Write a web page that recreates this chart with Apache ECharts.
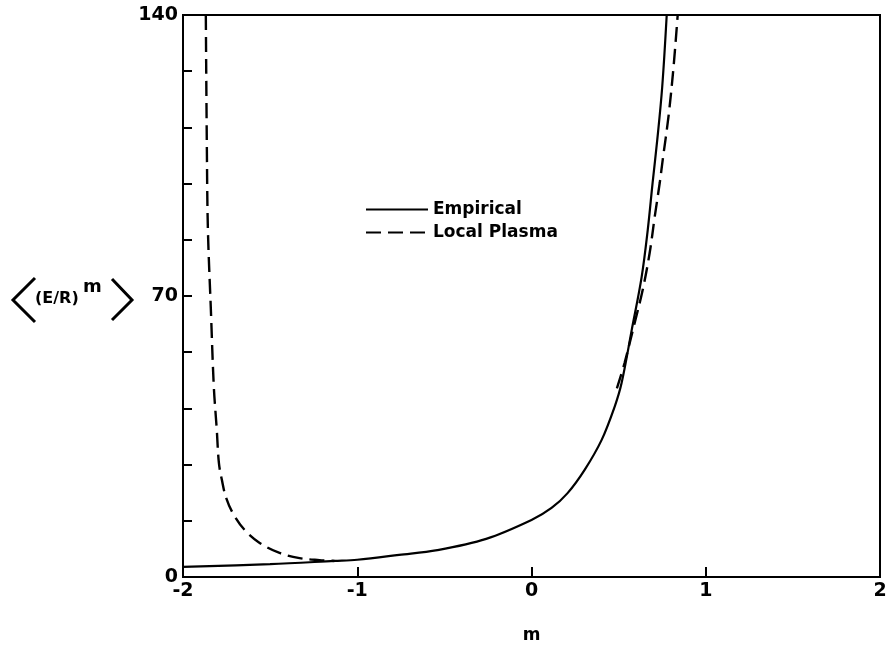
<!DOCTYPE html>
<html>
<head>
<meta charset="utf-8">
<script src="https://cdn.jsdelivr.net/npm/echarts@6/dist/echarts.min.js"></script>
<style>
  html, body { margin: 0; padding: 0; background: #fff; }
  #chart { width: 892px; height: 659px; }
</style>
</head>
<body>
<div id="chart"></div>
<script>
// Moment <(E/R)^m> as a function of the exponent m
const empiricalPoints = [
  [-2.0, 2.5], [-1.5, 3.2], [-1.13, 4.0], [-1.0, 4.3], [-0.76, 5.5],
  [-0.54, 6.7], [-0.26, 9.5], [0.0, 14.2], [0.115, 17.2], [0.207, 20.9],
  [0.305, 26.7], [0.402, 34.1], [0.477, 42.4], [0.517, 48.3], [0.575, 61.5],
  [0.632, 74.7], [0.667, 86.4], [0.695, 98.2], [0.722, 109.0], [0.750, 122.0],
  [0.776, 140]
];
const plasmaLowBranch = [
  [-1.869, 140], [-1.863, 106.4], [-1.857, 86.4], [-1.840, 66.5], [-1.823, 47.3],
  [-1.806, 36.6], [-1.794, 28.4], [-1.777, 24.2], [-1.754, 19.9], [-1.714, 15.9],
  [-1.646, 11.7], [-1.560, 8.5], [-1.446, 6.0], [-1.331, 4.7], [-1.217, 4.2],
  [-1.131, 4.0]
];
const plasmaHighBranch = [
  [0.49, 47.0], [0.534, 53.3], [0.592, 63.3], [0.638, 71.5], [0.678, 80.7],
  [0.707, 89.7], [0.736, 98.2], [0.753, 103.9], [0.787, 115.0], [0.815, 127.0],
  [0.839, 140]
];
const seriesNames = ['Empirical', 'Local Plasma'];
const yLabelValues = [0, 70, 140];

const FONT = '"DejaVu Sans", "Liberation Sans", Arial, sans-serif';
const chart = echarts.init(document.getElementById('chart'), null, { renderer: 'canvas' });

const lineBase = { type: 'line', showSymbol: false, symbol: 'none', smooth: 0.35, silent: true, animation: false };
const dash = [15, 7];

chart.setOption({
  backgroundColor: '#fff',
  animation: false,
  grid: { left: 183, right: 12, top: 15, bottom: 82, show: true, borderColor: '#000', borderWidth: 2, backgroundColor: 'transparent' },
  legend: {
    orient: 'vertical', left: 360, top: 196, itemWidth: 62, itemHeight: 14, itemGap: 6,
    data: seriesNames,
    itemStyle: { opacity: 0 },
    textStyle: { fontFamily: FONT, fontWeight: 'bold', fontSize: 17, color: '#000' },
    selectedMode: false
  },
  xAxis: {
    type: 'value', min: -2, max: 2, interval: 1,
    name: 'm', nameLocation: 'middle', nameGap: 50,
    nameTextStyle: { fontFamily: FONT, fontWeight: 'bold', fontSize: 17, color: '#000' },
    axisLine: { onZero: false, lineStyle: { color: '#000', width: 2 } },
    axisTick: { inside: true, length: 10, lineStyle: { color: '#000', width: 2 } },
    axisLabel: { fontFamily: FONT, fontWeight: 'bold', fontSize: 19, color: '#000', margin: 5 },
    splitLine: { show: false }
  },
  yAxis: {
    type: 'value', min: 0, max: 140, interval: 14,
    axisLine: { show: true, onZero: false, lineStyle: { color: '#000', width: 2 } },
    axisTick: { show: true, inside: true, length: 9, lineStyle: { color: '#000', width: 2 } },
    axisLabel: {
      fontFamily: FONT, fontWeight: 'bold', fontSize: 19, color: '#000', margin: 5,
      formatter: v => (yLabelValues.includes(v) ? String(v) : '')
    },
    splitLine: { show: false }
  },
  series: [
    Object.assign({}, lineBase, {
      name: seriesNames[0], data: empiricalPoints,
      lineStyle: { color: '#000', width: 2.2, type: 'solid' }, itemStyle: { color: '#000' }
    }),
    Object.assign({}, lineBase, {
      name: seriesNames[1], data: plasmaLowBranch,
      lineStyle: { color: '#000', width: 2.4, type: dash }, itemStyle: { color: '#000' }
    }),
    Object.assign({}, lineBase, {
      name: seriesNames[1], data: plasmaHighBranch,
      lineStyle: { color: '#000', width: 2.4, type: dash }, itemStyle: { color: '#000' }
    })
  ],
  graphic: [
    // angle brackets around the y-axis quantity
    { type: 'polyline', shape: { points: [[35, 278], [13, 300], [35, 322]] }, style: { stroke: '#000', lineWidth: 3, fill: null } },
    { type: 'polyline', shape: { points: [[112, 279], [132, 300], [112, 320]] }, style: { stroke: '#000', lineWidth: 3, fill: null } },
    { type: 'text', left: 35, top: 291, style: { text: '(E/R)', font: 'bold 16px ' + FONT, fill: '#000' } },
    { type: 'text', left: 83, top: 278, style: { text: 'm', font: 'bold 18px ' + FONT, fill: '#000' } }
  ]
});
</script>
</body>
</html>
